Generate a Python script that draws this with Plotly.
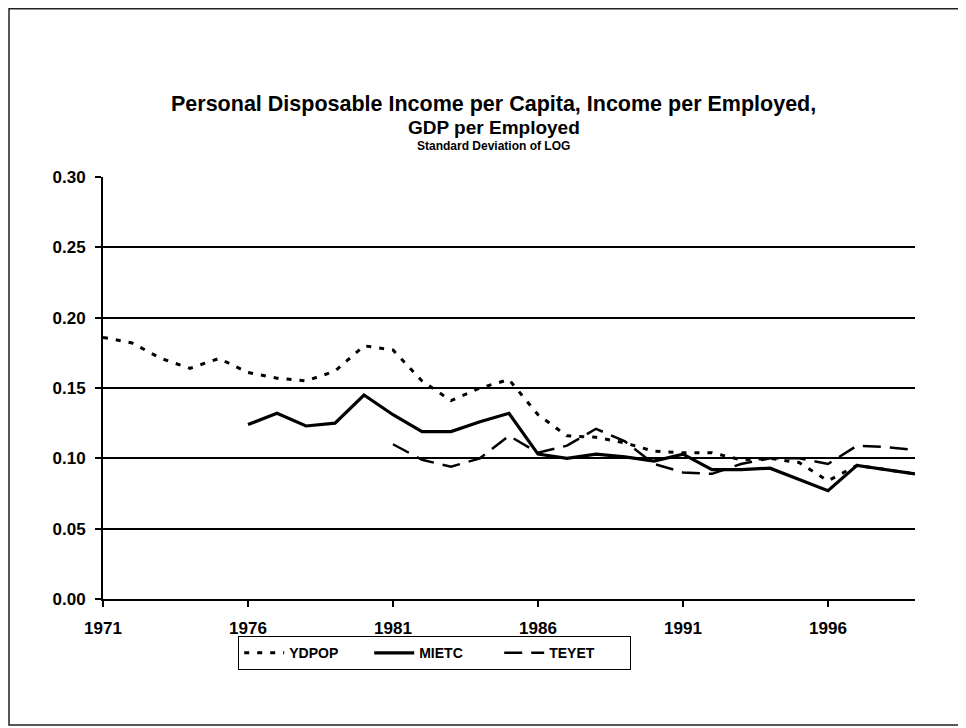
import plotly.graph_objects as go

years = list(range(1971, 2000))

ydpop = [0.186, 0.182, 0.171, 0.164, 0.171, 0.161, 0.157, 0.155, 0.162, 0.180,
         0.177, 0.155, 0.141, 0.150, 0.156, 0.131, 0.116, 0.115, 0.111, 0.105,
         0.104, 0.104, 0.099, 0.100, 0.097, 0.084, 0.095, 0.092, 0.089]

mietc = [None, None, None, None, None, 0.124, 0.132, 0.123, 0.125, 0.145,
         0.131, 0.119, 0.119, 0.126, 0.132, 0.103, 0.100, 0.103, 0.101, 0.098,
         0.103, 0.092, 0.092, 0.093, 0.085, 0.077, 0.095, 0.092, 0.089]

teyet = [None, None, None, None, None, None, None, None, None, None,
         0.110, 0.099, 0.094, 0.100, 0.116, 0.104, 0.109, 0.121, 0.112, 0.096,
         0.090, 0.089, 0.096, 0.100, 0.100, 0.096, 0.109, 0.108, 0.106]

x_ticks = [1971, 1976, 1981, 1986, 1991, 1996]
y_ticks = [0.00, 0.05, 0.10, 0.15, 0.20, 0.25, 0.30]

FONT = "Liberation Sans"

fig = go.Figure()
fig.add_trace(go.Scatter(x=years, y=ydpop, name="YDPOP", mode="lines",
                         line=dict(color="black", width=3, dash="5px,8px")))
fig.add_trace(go.Scatter(x=years, y=mietc, name="MIETC", mode="lines",
                         line=dict(color="black", width=3.2)))
fig.add_trace(go.Scatter(x=years, y=teyet, name="TEYET", mode="lines",
                         line=dict(color="black", width=2.5, dash="18px,9px")))

# the page adds an 8px body margin; work in screen coordinates minus 8
OFF = 8
W, H = 966 - OFF, 728 - OFF
L, R, T, B = 103 - OFF, 915 - OFF, 177 - OFF, 599 - OFF
pw, ph = R - L, B - T


def px(x):
    return (x - OFF - L) / pw


def py(y):
    return (B - (y - OFF)) / ph


fig.update_layout(
    width=W, height=H,
    margin=dict(l=L, r=W - R, t=T, b=H - B, pad=0, autoexpand=False),
    paper_bgcolor="white", plot_bgcolor="white",
    font=dict(family=FONT, color="black", size=14),
    showlegend=True,
    legend=dict(orientation="h", x=px(238), y=py(636), xanchor="left", yanchor="top",
                bordercolor="black", borderwidth=1.2, bgcolor="white",
                font=dict(family=FONT, size=14, color="black", weight="bold"),
                itemwidth=40, entrywidth=75, tracegroupgap=0),
    xaxis=dict(range=[1971, 1999], tickmode="array", tickvals=x_ticks,
               ticktext=[str(v) for v in x_ticks], showgrid=False, zeroline=False,
               showline=True, linecolor="black", linewidth=2,
               ticks="outside", ticklen=6, tickwidth=1.5, tickcolor="black",
               tickfont=dict(family=FONT, size=17, color="black", weight="bold"),
               ticklabelstandoff=7),
    yaxis=dict(range=[0, 0.30], tickmode="array", tickvals=y_ticks,
               ticktext=["%.2f" % v for v in y_ticks], showgrid=True,
               gridcolor="black", gridwidth=1.6, zeroline=False,
               showline=True, linecolor="black", linewidth=2,
               ticks="outside", ticklen=6, tickwidth=1.5, tickcolor="black",
               tickfont=dict(family=FONT, size=17, color="black", weight="bold"),
               ticklabelstandoff=6),
    shapes=[dict(type="rect", xref="paper", yref="paper",
                 x0=px(9), x1=px(960), y0=py(725), y1=py(8.8),
                 line=dict(color="#222", width=1.5), fillcolor="rgba(0,0,0,0)")],
    annotations=[
        dict(text="<b>Personal Disposable Income per Capita, Income per Employed,</b>",
             xref="paper", yref="paper", x=px(493), y=py(104), xanchor="center", yanchor="middle",
             showarrow=False, font=dict(family=FONT, size=21.5, color="black")),
        dict(text="<b>GDP per Employed</b>",
             xref="paper", yref="paper", x=px(494), y=py(127), xanchor="center", yanchor="middle",
             showarrow=False, font=dict(family=FONT, size=19, color="black")),
        dict(text="<b>Standard Deviation of LOG</b>",
             xref="paper", yref="paper", x=px(493), y=py(146), xanchor="center", yanchor="middle",
             showarrow=False, font=dict(family=FONT, size=12, color="black")),
    ],
)

fig.write_html("out.html")
